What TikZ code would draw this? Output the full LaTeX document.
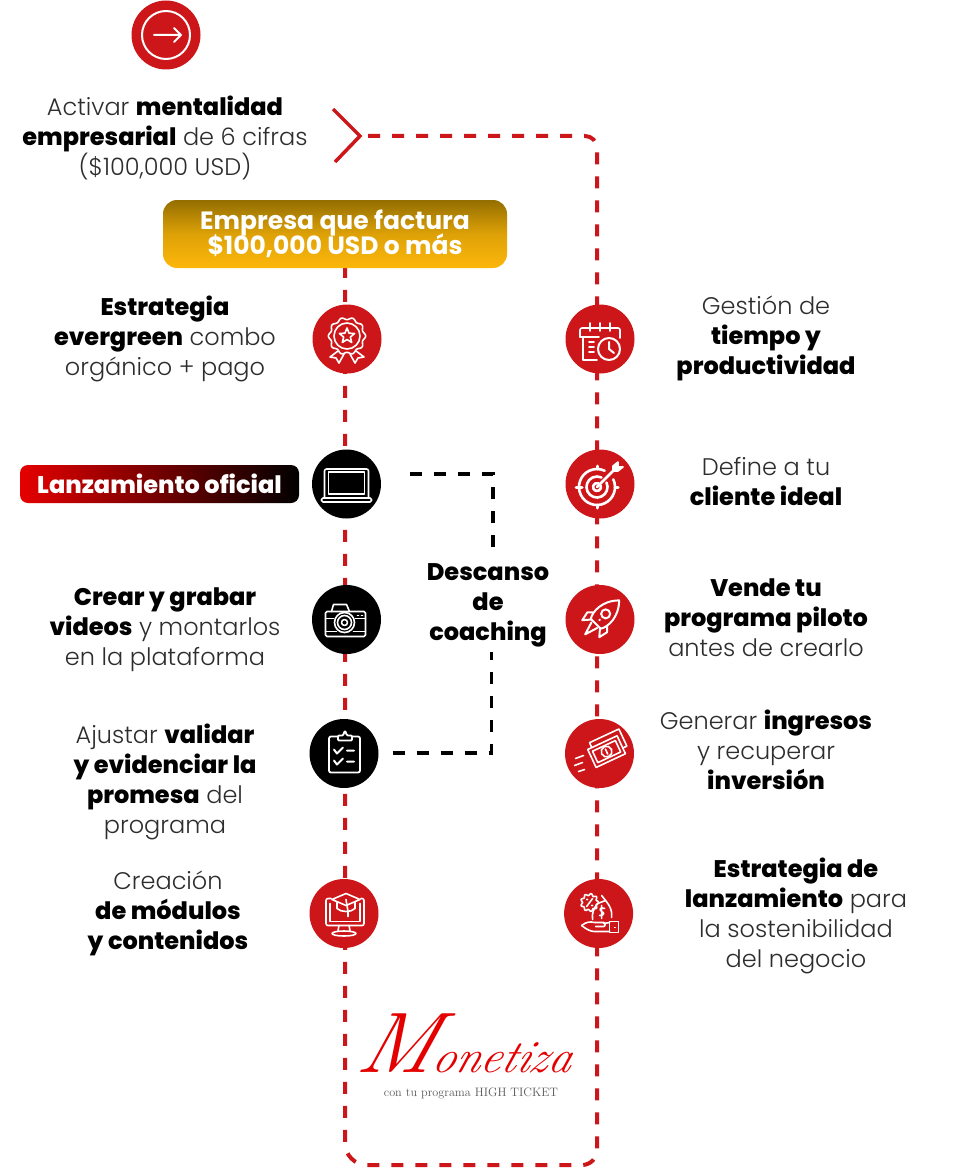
\documentclass[tikz,border=0pt]{standalone}
\definecolor{MoneRed}{RGB}{204,22,25}
\definecolor{GoldDark}{RGB}{148,110,0}
\definecolor{GoldLight}{RGB}{253,183,10}
\definecolor{SoftText}{RGB}{45,45,45}
\usepackage{fontspec}
\setmainfont{Poppins}[UprightFont=* Light,BoldFont=* ExtraBold]
\newfontfamily\bannerfont{Poppins}[UprightFont=* Bold]
\newfontfamily\logofont{Latin Modern Roman}
\usepackage{tikz}
\usetikzlibrary{shapes,arrows,positioning,calc,fit,backgrounds}
\newcommand{\hi}[1]{{\color{black}\textbf{#1}}}

\begin{document}
\begin{tikzpicture}[
      x=1pt, y=-1pt,
      dot/.style={circle, minimum size=69pt, inner sep=0pt},
      reddot/.style={dot, fill=MoneRed},
      blackdot/.style={dot, fill=black},
      caption/.style={align=center, text=SoftText, inner sep=0pt, font=\fontsize{24}{30}\selectfont},
      banner/.style={rounded corners=14pt, minimum width=344pt, minimum height=68pt, inner sep=0pt, align=center, text=white, font=\bannerfont\fontsize{25}{25}\selectfont, top color=GoldDark, bottom color=GoldLight, middle color=GoldLight!70!GoldDark},
      launch/.style={rounded corners=8pt, minimum width=279pt, minimum height=38pt, inner sep=0pt, text=white, font=\fontsize{24}{24}\selectfont\bfseries, left color=red!90!black, right color=black},
      redline/.style={draw=MoneRed, line width=4pt, dash pattern=on 12pt off 12pt},
      blackline/.style={draw=black, line width=3.5pt, dash pattern=on 12pt off 12pt},
      ic/.style={draw=white, line width=1.6pt, line join=round, line cap=round},
      pics/arrowicon/.style={code={
        \draw[ic, line width=2pt] (0,0) circle (24);
        \draw[ic, line width=2pt] (-12,0) -- (15,0) (8,-7) -- (15,0) -- (8,7);
      }},
      pics/ribbonicon/.style={code={
        \begin{scope}[shift={(0,-3)}]
          \draw[ic] plot[domain=0:360, samples=73, smooth] (\x:{17.5+1.2*cos(10*\x)}) -- cycle;
          \draw[ic] (0,0) circle (13);
          \draw[ic] (-90:8) -- (-54:3.5) -- (-18:8) -- (18:3.5) -- (54:8) -- (90:3.5) -- (126:8) -- (162:3.5) -- (198:8) -- (234:3.5) -- cycle;
          \draw[ic] (-9,15) -- (-17,21) -- (-11,22) -- (-8,27) -- (-3,18);
          \draw[ic] (9,15) -- (17,21) -- (11,22) -- (8,27) -- (3,18);
        \end{scope}
      }},
      pics/calendaricon/.style={code={
        \draw[ic] (-3,21) -- (-17,21) -- (-17,-2);
        \draw[ic, rounded corners=2pt] (-20,-2) -- (-20,-11) -- (20,-11) -- (20,-1);
        \draw[ic] (-20,-2) -- (-1,-2);
        \draw[ic] (-10,-16) -- (-10,-8) (0,-16) -- (0,-8) (10,-16) -- (10,-8);
        \draw[ic] (-11,3) -- (-6,3) (-11,8) -- (-6,8) (-11,13) -- (-6,13);
        \draw[ic, line width=2pt] (9,10) circle (11);
        \draw[ic, line width=2pt] (9,3) -- (9,10) -- (14,14);
      }},
      pics/laptopicon/.style={code={
        \draw[ic, rounded corners=2pt] (-22,14) -- (-22,-15) -- (22,-15) -- (22,14);
        \draw[ic] (-18,-12) rectangle (18,10);
        \draw[ic, rounded corners=1.5pt] (-25,14) rectangle (25,18);
        \draw[ic] (-6,14) -- (6,14);
      }},
      pics/targeticon/.style={code={
        \draw[ic, line width=2.6pt] (-3,3) ++(-25:18) arc (-25:295:18);
        \draw[ic, line width=2.6pt] (-3,3) ++(-25:10.5) arc (-25:295:10.5);
        \draw[ic, line width=2.6pt] (-3,3) ++(-25:4) arc (-25:295:4);
        \draw[ic, line width=2.6pt] (-3,3) -- (13,-13);
        \draw[ic, fill=white] (13,-13) -- (13,-18) -- (18,-22) -- (18,-17) -- (23,-17) -- (18,-13) -- cycle;
        \draw[ic, line width=3pt] (-24,3) -- (-18,3) (-3,21) -- (-3,24) (15,3) -- (18,3) (-3,-18) -- (-3,-15);
      }},
      pics/cameraicon/.style={code={
        \draw[ic, rounded corners=1.5pt] (-21,-8) rectangle (19,17);
        \draw[ic] (-15,-8) -- (-13,-15) -- (0,-15) -- (3,-8);
        \draw[ic] (-21,-1) -- (-13,-1) (9,-1) -- (19,-1) (-21,12) -- (-10,12) (7,12) -- (19,12);
        \draw[ic] (-2,3) circle (10) (-2,3) circle (7) (-2,3) circle (3);
        \draw[ic] (11,-4) -- (12,-4) (15,-4) -- (16,-4);
      }},
      pics/rocketicon/.style={code={
        \begin{scope}[rotate=45]
          \draw[ic, line width=2pt] (-6,-7) .. controls (0,-11) and (15,-12) .. (27,0) .. controls (15,12) and (0,11) .. (-6,7) -- cycle;
          \draw[ic, line width=2pt] (8,0) circle (4.5);
          \draw[ic, line width=2pt] (0,-10) -- (-4,-14) -- (-13,-12) -- (-6,-6);
          \draw[ic, line width=2pt] (0,10) -- (-4,14) -- (-13,12) -- (-6,6);
          \draw[ic, line width=2pt] (-8,-4) -- (-21,0) -- (-8,4);
          \draw[ic, line width=2pt] (-1,0) -- (0,0);
        \end{scope}
      }},
      pics/clipboardicon/.style={code={
        \draw[ic, line width=1.8pt, rounded corners=2pt] (-6,-17) -- (-15,-17) -- (-15,19) -- (16,19) -- (16,-17) -- (8,-17);
        \draw[ic, line width=1.8pt, rounded corners=1pt] (-6,-13) -- (8,-13) -- (8,-18) -- (3,-18) -- (1,-23) -- (-1,-18) -- (-6,-18) -- cycle;
        \draw[ic, line width=2pt] (-10,-4) -- (-7,0) -- (-1,-6) (3,-3) -- (10,-3);
        \draw[ic, line width=2pt] (-10,7) -- (-7,11) -- (-1,5) (3,8) -- (10,8);
      }},
      pics/moneyicon/.style={code={
        \begin{scope}[shift={(3,0)}, rotate=25, scale=0.9]
          \draw[ic, fill=MoneRed] (-8,-17) rectangle (28,4);
          \draw[ic, fill=MoneRed] (-13,-11) rectangle (23,11);
          \draw[ic] (-9,-7) rectangle (19,7);
          \draw[ic] (5,0) circle (6);
          \draw[ic] (5,-3) -- (5,3);
        \end{scope}
        \draw[ic] (-24,5) -- (-16,2) (-25,12) -- (-17,9) (-21,18) -- (-15,16);
      }},
      pics/moduleicon/.style={code={
        \draw[ic, rounded corners=2pt] (-13,-15) -- (-18,-15) -- (-18,12) -- (20,12) -- (20,-15) -- (17,-15);
        \draw[ic] (-14,-10) -- (-14,8) -- (16,8) -- (16,-10);
        \draw[ic] (-5,12) -- (-6,17) (5,12) -- (6,17);
        \draw[ic] (0,20) ellipse (12 and 2.5);
        \draw[ic] (-12,-14) -- (2,-20) -- (16,-14) -- (2,-8) -- cycle;
        \draw[ic] (-7,-11) -- (-7,-5) .. controls (-3,-1) and (7,-1) .. (11,-5) -- (11,-11);
        \draw[ic] (2,-14) -- (4,-2) -- (4,3);
      }},
      pics/handicon/.style={code={
        \draw[ic] plot[domain=0:360, samples=61, smooth] ({-9+8*cos(\x)+1*cos(9*\x)*cos(\x)}, {-11+8*sin(\x)+1*cos(9*\x)*sin(\x)}) -- cycle;
        \draw[ic] (-12,-7) -- (-6,-15) (-12,-14) -- (-11,-14) (-7,-8) -- (-6,-8);
        \draw[ic] (3,-18) -- (7,-13) -- (-1,-10) (7,-13) .. controls (11,-8) and (14,-3) .. (13,4);
        \draw[ic] (-1,-10) .. controls (-5,-5) and (-7,0) .. (-6,6);
        \draw[ic] (6,-5) .. controls (2,-7) and (0,-4) .. (3,-2) .. controls (6,-1) and (6,2) .. (1,2) (3,-8) -- (3,5);
        \draw[ic] (-17,12) .. controls (-12,8) and (-8,8) .. (-4,9) -- (5,9) .. controls (7,9) and (7,13) .. (5,13) -- (-3,13);
        \draw[ic] (-17,12) .. controls (-12,16) and (-8,18) .. (-4,18) -- (11,18) (5,10) -- (11,9);
        \draw[ic] (11,8) rectangle (20,19);
        \draw[ic] (16,14) -- (16.5,14);
      }}
    ]
      % top of the route
      \node[reddot] (startdot) at (166,35) {};
      \pic at (startdot) {arrowicon};
      \node[caption] (mindset) at (165,138) {Activar \hi{mentalidad}\\\hi{empresarial} de 6 cifras\\(\$100,000 USD)};
      \coordinate (chevtop) at (333,109);
      \coordinate (chevtip) at (360,136);
      \coordinate (chevlow) at (335,162);
      \draw[MoneRed, line width=3.5pt, line join=miter] (chevtop) -- (chevtip) -- (chevlow);
      \node[banner] (goal) at (335,234) {Empresa que factura\\[-4pt]\$100,000 USD o más};

      % left column
      \node[reddot] (evergreen) at (347,339) {};
      \node[blackdot] (launchdot) at (346.5,484) {};
      \node[blackdot] (videos) at (346.5,619.5) {};
      \node[blackdot] (validate) at (344,753.5) {};
      \node[reddot] (modules) at (344,913.5) {};
      \pic at (evergreen) {ribbonicon};
      \pic at (launchdot) {laptopicon};
      \pic at (videos) {cameraicon};
      \pic at (validate) {clipboardicon};
      \pic at (modules) {moduleicon};

      % right column
      \node[reddot] (agenda) at (600,339) {};
      \node[reddot] (client) at (600,484) {};
      \node[reddot] (pilot) at (600,619.5) {};
      \node[reddot] (income) at (599.5,753.5) {};
      \node[reddot] (funnel) at (598.6,913.5) {};
      \pic at (agenda) {calendaricon};
      \pic at (client) {targeticon};
      \pic at (pilot) {rocketicon};
      \pic at (income) {moneyicon};
      \pic at (funnel) {handicon};

      % captions
      \node[caption] (evergreentxt) at (165,339) {\hi{Estrategia}\\\hi{evergreen} combo\\orgánico + pago};
      \node[launch] (launchtag) at (159.5,484) {Lanzamiento oficial};
      \node[caption] (videostxt) at (165,629.5) {\hi{Crear y grabar}\\\hi{videos} y montarlos\\en la plataforma};
      \node[caption] (validatetxt) at (165,782) {Ajustar \hi{validar}\\\hi{y evidenciar la}\\\hi{promesa} del\\programa};
      \node[caption] (modulestxt) at (168,913) {Creación\\\hi{de módulos}\\\hi{y contenidos}};
      \node[caption] (agendatxt) at (766,338) {Gestión de\\\hi{tiempo y}\\\hi{productividad}};
      \node[caption] (clienttxt) at (766,481) {Define a tu\\\hi{cliente ideal}};
      \node[caption] (pilottxt) at (766,618) {\hi{Vende tu}\\\hi{programa piloto}\\antes de crearlo};
      \node[caption] (incometxt) at (766,750) {Generar \hi{ingresos}\\y recuperar\\\hi{inversión}};
      \node[caption] (funneltxt) at (796,916) {\hi{Estrategia de}\\\hi{lanzamiento} para\\la sostenibilidad\\del negocio};
      \node[caption] (rest) at (488,605.5) {\hi{Descanso}\\\hi{de}\\\hi{coaching}};

      % logo
      \node[inner sep=0pt, anchor=base, text=red!90!black, xslant=0.3, font=\logofont\itshape] (logoname) at (462,1072) {{\fontsize{86}{86}\selectfont M}{\fontsize{46}{46}\selectfont onetiza}};
      \node[inner sep=0pt, text=black!65, font=\logofont\fontsize{12.2}{13}\selectfont] (logosub) at (471,1093) {con tu programa HIGH TICKET};

      % route behind the dots
      \coordinate (cornertr) at (597,136);
      \coordinate (cornerbr) at (597,1165);
      \coordinate (cornerbl) at (345,1165);
      \coordinate (resttop) at (493,474);
      \coordinate (restlow) at (491.5,753);
      \begin{scope}[on background layer]
        \draw[redline] (368,136) [rounded corners=12pt] -- (cornertr) [rounded corners=15pt] -- (cornerbr) [rounded corners=22pt] -- (cornerbl) -- (goal.south -| cornerbl);
      \end{scope}
      \draw[blackline, shorten >=14pt] (launchdot.east |- resttop) ++(29,0) -- (resttop) -- (rest.north -| resttop);
      \draw[blackline, shorten >=5pt] (validate.east |- restlow) ++(14,0) -- (restlow) -- (rest.south -| restlow);
      \useasboundingbox (0,0) rectangle (959,1169);
    \end{tikzpicture}
\end{document}
